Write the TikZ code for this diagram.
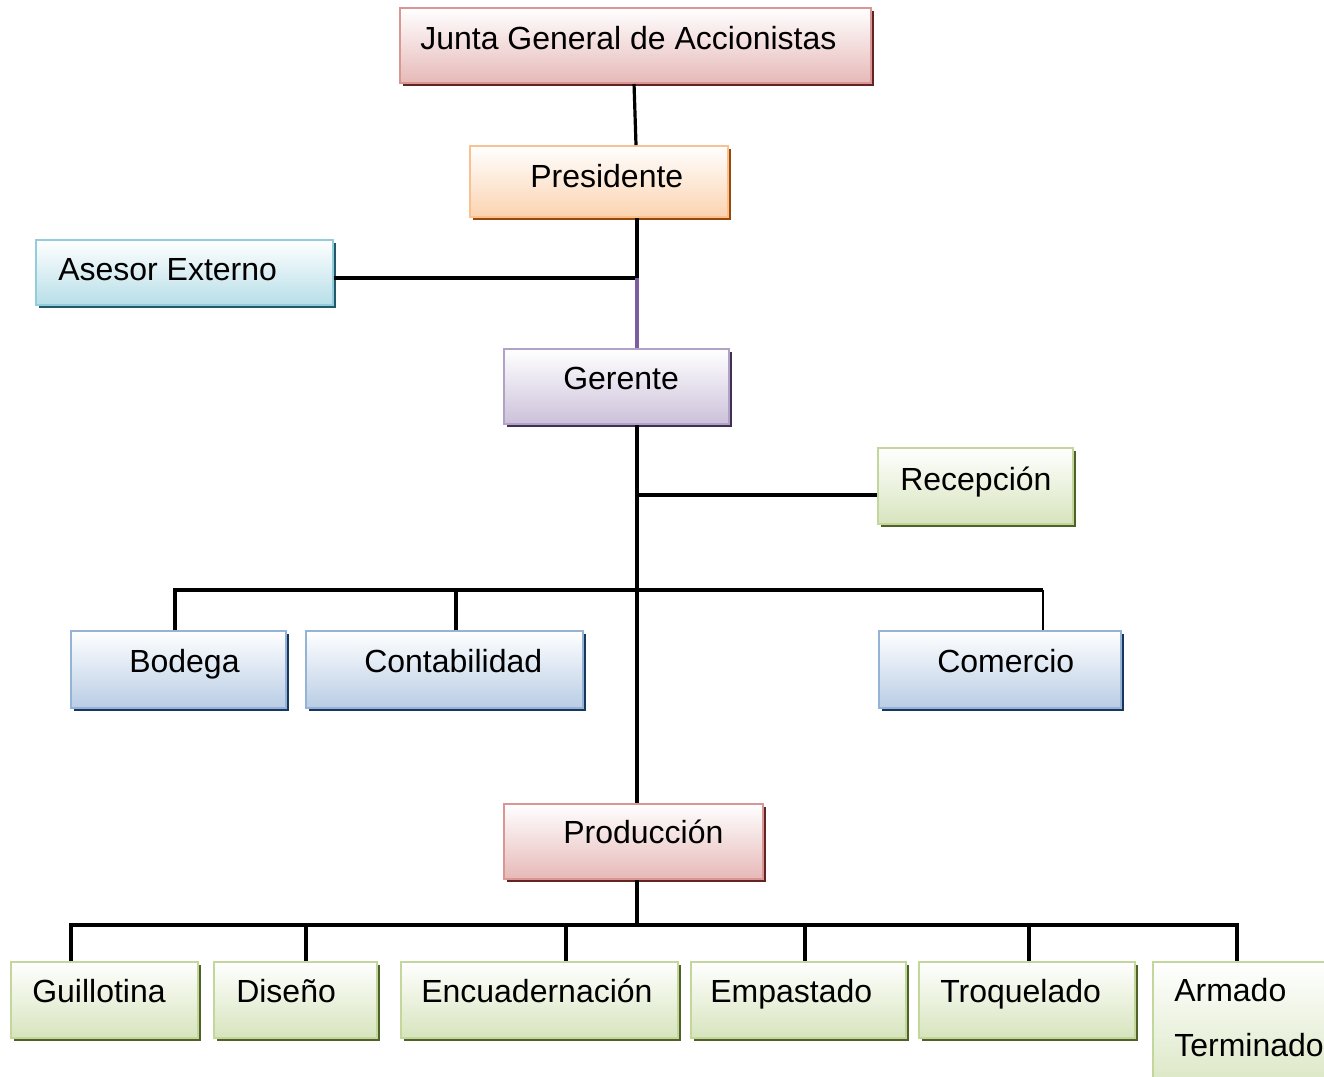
\documentclass[tikz,border=0pt]{standalone}
\usepackage{fontspec}
\setmainfont{Liberation Sans}
\usetikzlibrary{shadows}

% box palettes: border, lower fill, shadow
\definecolor{redB}{HTML}{D99694}\definecolor{redF}{HTML}{E6B9B8}\definecolor{redS}{HTML}{632523}
\definecolor{orgB}{HTML}{FAC090}\definecolor{orgF}{HTML}{FBD3B0}\definecolor{orgS}{HTML}{984807}
\definecolor{aquB}{HTML}{93CDDD}\definecolor{aquF}{HTML}{B7DEE8}\definecolor{aquS}{HTML}{215968}
\definecolor{purB}{HTML}{B3A2C7}\definecolor{purF}{HTML}{CCC1DA}\definecolor{purS}{HTML}{403152}
\definecolor{grnB}{HTML}{C3D69B}\definecolor{grnF}{HTML}{D7E4BD}\definecolor{grnS}{HTML}{4F6228}
\definecolor{bluB}{HTML}{95B3D7}\definecolor{bluF}{HTML}{B9CDE5}\definecolor{bluS}{HTML}{17375E}
\definecolor{purLine}{HTML}{7B5E9E}

\tikzset{
  orgbox/.style n args={3}{rectangle, draw=#1, line width=1.5pt, top color=white,
    bottom color=#2, inner sep=0pt, anchor=north west,
    general shadow={fill=#3, shadow xshift=2.6pt, shadow yshift=-2.6pt}},
  redbox/.style={orgbox={redB}{redF}{redS}},
  orangebox/.style={orgbox={orgB}{orgF}{orgS}},
  aquabox/.style={orgbox={aquB}{aquF}{aquS}},
  purplebox/.style={orgbox={purB}{purF}{purS}},
  greenbox/.style={orgbox={grnB}{grnF}{grnS}},
  bluebox/.style={orgbox={bluB}{bluF}{bluS}},
  lbl/.style={anchor=base west, inner sep=0pt, font=\fontsize{24}{28}\selectfont},
  conn/.style={line width=2.4pt, black, line join=miter},
  thinconn/.style={line width=1.3pt, black},
}

\begin{document}
\begin{tikzpicture}[x=0.75pt,y=-0.75pt]
\clip (0,0) rectangle (1324,1076);
\fill[white] (0,0) rectangle (1324,1076);

% boxes
\node[redbox, minimum width=353.25pt, minimum height=56.25pt] (junta) at (399,7) {};
\node[orangebox, minimum width=193.5pt, minimum height=53.25pt] (pres) at (469,145) {};
\node[aquabox, minimum width=222.75pt, minimum height=48.75pt] (asesor) at (35,239) {};
\node[purplebox, minimum width=168.75pt, minimum height=56.25pt] (gerente) at (503,348) {};
\node[greenbox, minimum width=146.25pt, minimum height=57pt] (recep) at (877,447) {};
\node[bluebox, minimum width=161.25pt, minimum height=57.75pt] (bodega) at (70,630) {};
\node[bluebox, minimum width=207.75pt, minimum height=57.75pt] (conta) at (305,630) {};
\node[bluebox, minimum width=181.5pt, minimum height=57.75pt] (comer) at (878,630) {};
\node[redbox, minimum width=194.25pt, minimum height=56.25pt] (prod) at (503,803) {};
\node[greenbox, minimum width=140.25pt, minimum height=57pt] (guill) at (10,961) {};
\node[greenbox, minimum width=122.25pt, minimum height=57pt] (diseno) at (213,961) {};
\node[greenbox, minimum width=207.75pt, minimum height=57pt] (encu) at (400,961) {};
\node[greenbox, minimum width=161.25pt, minimum height=57pt] (empa) at (690,961) {};
\node[greenbox, minimum width=162pt, minimum height=57pt] (troq) at (918,961) {};
\node[greenbox, minimum width=141pt, minimum height=104.25pt] (armado) at (1152,961) {};

% labels
\node[lbl] (tJunta) at (420,49) {Junta General de Accionistas};
\node[lbl] (tPres) at (530,187) {Presidente};
\node[lbl] (tAses) at (58,280) {Asesor Externo};
\node[lbl] (tGer) at (563,389) {Gerente};
\node[lbl] (tRec) at (900,490) {Recepción};
\node[lbl] (tBod) at (129,672) {Bodega};
\node[lbl] (tCon) at (364,672) {Contabilidad};
\node[lbl] (tCom) at (937,672) {Comercio};
\node[lbl] (tProd) at (563,843) {Producción};
\node[lbl] (tGui) at (32,1002) {Guillotina};
\node[lbl] (tDis) at (236,1002) {Diseño};
\node[lbl] (tEnc) at (421,1002) {Encuadernación};
\node[lbl] (tEmp) at (710,1002) {Empastado};
\node[lbl] (tTro) at (940,1002) {Troquelado};
\node[lbl] (tArm) at (1174,1001) {Armado};
\node[lbl] (tTer) at (1174,1056) {Terminado};

% junction points on the main trunk
\coordinate (tA) at (637,278);
\coordinate (tR) at (637,495);
\coordinate (busA) at (637,590);
\coordinate (busB) at (637,925);

% connectors
\draw[conn] ([xshift=-1.1pt]junta.south) -- ([xshift=27.75pt]pres.north);
\draw[conn] (pres.south -| tA) -- (tA) -- (asesor.east |- tA);
\draw[line width=2.4pt, purLine] (tA) -- (gerente.north -| tA);
\draw[conn] (gerente.south -| tA) -- (prod.north -| tA);
\draw[conn] (tR) -- (recep.west |- tR);

% first level departments
\draw[conn] ([xshift=-2.6pt]bodega.north) -- ++(0,-40) -- ([xshift=32.25pt,yshift=30pt]comer.north);
\draw[conn] ([xshift=8.6pt]conta.north) -- ++(0,-40);
\draw[thinconn] ([xshift=32.25pt]comer.north) -- ++(0,-40);

% production sections
\draw[conn] (prod.south -| busB) -- (busB);
\draw[conn] ([xshift=-25.1pt]guill.north) -- ++(0,-36) -| ([xshift=-7.5pt]armado.north);
\draw[conn] ([xshift=7.9pt]diseno.north) -- ++(0,-36);
\draw[conn] ([xshift=19.9pt]encu.north) -- ++(0,-36);
\draw[conn] ([xshift=4.9pt]empa.north) -- ++(0,-36);
\draw[conn] ([xshift=1.5pt]troq.north) -- ++(0,-36);
\end{tikzpicture}
\end{document}
